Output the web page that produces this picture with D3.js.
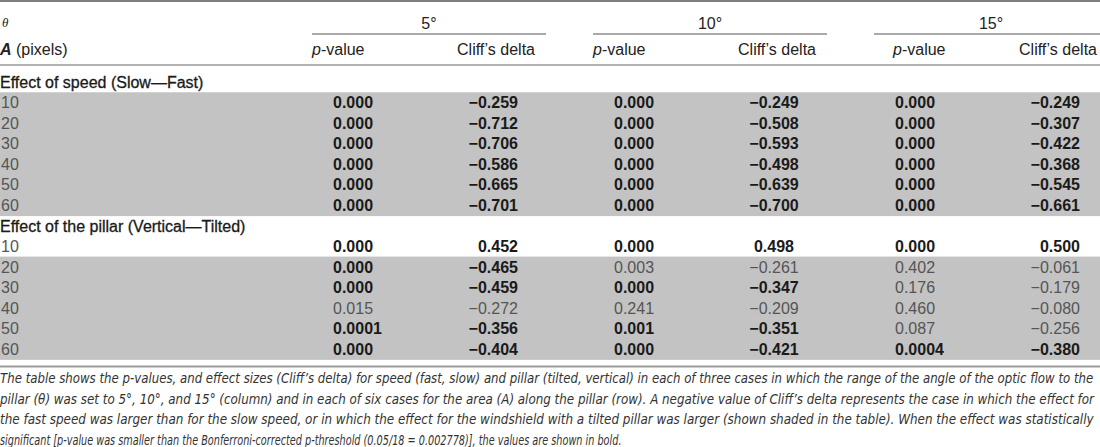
<!DOCTYPE html>
<html>
<head>
<meta charset="utf-8">
<script src="https://cdn.jsdelivr.net/npm/d3@7"></script>
<style>
  body { margin: 0; background: #fff; }
  svg { display: block; font-family: "Liberation Sans", Arial, Helvetica, sans-serif; }
</style>
</head>
<body>
<script>
// table values
const areas = [10, 20, 30, 40, 50, 60];
const angles = ["5°", "10°", "15°"];
const colHeads = ["p-value", "Cliff’s delta"];
const sections = ["Effect of speed (Slow—Fast)", "Effect of the pillar (Vertical—Tilted)"];

// rows = area, columns = angle
const speedP = [
	[0, 0, 0],
	[0, 0, 0],
	[0, 0, 0],
	[0, 0, 0],
	[0, 0, 0],
	[0, 0, 0]
];
const speedDelta = [
	[-0.259, -0.249, -0.249],
	[-0.712, -0.508, -0.307],
	[-0.706, -0.593, -0.422],
	[-0.586, -0.498, -0.368],
	[-0.665, -0.639, -0.545],
	[-0.701, -0.700, -0.661]
];
const pillarP = [
	[0, 0, 0],
	[0, 0.003, 0.402],
	[0, 0, 0.176],
	[0.015, 0.241, 0.460],
	[0.0001, 0.001, 0.087],
	[0, 0, 0.0004]
];
const pillarDelta = [
	[0.452, 0.498, 0.500],
	[-0.465, -0.261, -0.061],
	[-0.459, -0.347, -0.179],
	[-0.272, -0.209, -0.080],
	[-0.356, -0.351, -0.256],
	[-0.404, -0.421, -0.380]
];

// Bonferroni threshold
const threshold = 0.05 / 18;

const captionLines = [
	"The table shows the p-values, and effect sizes (Cliff’s delta) for speed (fast, slow) and pillar (tilted, vertical) in each of three cases in which the range of the angle of the optic flow to the",
	"pillar (θ) was set to 5°, 10°, and 15° (column) and in each of six cases for the area (A) along the pillar (row). A negative value of Cliff’s delta represents the case in which the effect for",
	"the fast speed was larger than for the slow speed, or in which the effect for the windshield with a tilted pillar was larger (shown shaded in the table). When the effect was statistically",
	"significant [p-value was smaller than the Bonferroni-corrected p-threshold (0.05/18 = 0.002778)], the values are shown in bold."
];
// width each caption line is set to (justified, last line ragged)
const captionWidths = [1095, 1095, 1095, 622];

const width = 1100,
	height = 447;

const fontSize = 16;
const shade = "#c3c3c3";

const svg = d3.select("body").append("svg")
	.attr("width", width)
	.attr("height", height);

// build the body rows: section label then six area rows
let body = [];
const pSets = [speedP, pillarP],
	dSets = [speedDelta, pillarDelta];
sections.forEach(function(label, s) {
	body.push({type: "section", label: label});
	areas.forEach(function(a, i) {
		body.push({type: "row", area: a, p: pSets[s][i], d: dSets[s][i]});
	});
});

// row index -> vertical centre
const yScale = d3.scaleLinear()
	.domain([0, body.length - 1])
	.range([82, 349]);
const rowH = yScale(1) - yScale(0);

// column groups (one per angle)
const xGroup = d3.scaleBand()
	.domain(angles)
	.range([312, 1108])
	.paddingInner(47 / 281);

// alignment of the delta column is not the same in every group
const deltaAlign = ["end", "middle", "end"];
const pHeadOffset = [0, 0, 19];

const fmtDelta = d3.format(".3f");
const fmtP = function(p) {
	if (p === 0) return "0.000";
	return p < 0.001 ? p.toFixed(4) : p.toFixed(3);
};

// shaded rows (negative delta)
svg.append("g").selectAll("rect")
	.data(body.map(function(d, i) { return {d: d, i: i}; })
		.filter(function(o) { return o.d.type === "row" && d3.max(o.d.d) < 0; }))
	.enter()
	.append("rect")
	.attr("x", 0)
	.attr("width", width)
	.attr("y", function(o) { return yScale(o.i) - rowH / 2; })
	.attr("height", rowH + 0.6)
	.attr("fill", shade);

// rules
svg.append("line")
	.attr("x1", 0).attr("x2", width)
	.attr("y1", 1).attr("y2", 1)
	.attr("stroke", "#555").attr("stroke-width", 1.5);

svg.append("g").selectAll("line")
	.data(angles)
	.enter()
	.append("line")
	.attr("x1", function(d) { return xGroup(d); })
	.attr("x2", function(d) { return xGroup(d) + xGroup.bandwidth(); })
	.attr("y1", 34).attr("y2", 34)
	.attr("stroke", "#555").attr("stroke-width", 1);

svg.append("line")
	.attr("x1", 0).attr("x2", width)
	.attr("y1", 65).attr("y2", 65)
	.attr("stroke", "#999").attr("stroke-width", 1.6);

svg.append("line")
	.attr("x1", 0).attr("x2", width)
	.attr("y1", 366.5).attr("y2", 366.5)
	.attr("stroke", "#999").attr("stroke-width", 1.8);

// header text
const head = svg.append("g")
	.attr("font-size", fontSize)
	.attr("fill", "#222");

head.append("text")
	.attr("x", 2).attr("y", 27)
	.attr("font-family", "'Liberation Serif', 'DejaVu Serif', serif")
	.attr("font-style", "italic")
	.attr("font-size", 13)
	.text("θ");

let aLabel = head.append("text")
	.attr("x", 0).attr("y", 55);
aLabel.append("tspan")
	.attr("font-weight", "bold")
	.attr("font-style", "italic")
	.text("A");
aLabel.append("tspan").text(" (pixels)");

head.selectAll(".grp")
	.data(angles)
	.enter()
	.append("text")
	.attr("class", "grp")
	.attr("x", function(d) { return xGroup(d) + xGroup.bandwidth() / 2; })
	.attr("y", 29)
	.attr("text-anchor", "middle")
	.text(function(d) { return d; });

angles.forEach(function(a, g) {
	let pHead = head.append("text")
		.attr("x", xGroup(a) + pHeadOffset[g])
		.attr("y", 55);
	pHead.append("tspan").attr("font-style", "italic").text("p");
	pHead.append("tspan").text(colHeads[0].slice(1));

	head.append("text")
		.attr("x", xGroup(a) + xGroup.bandwidth() - 11)
		.attr("y", 55)
		.attr("text-anchor", "end")
		.text(colHeads[1]);
});

// body text
const tbl = svg.append("g")
	.attr("font-size", fontSize);

body.forEach(function(row, i) {
	const yb = yScale(i) + 5.8;
	if (row.type === "section") {
		tbl.append("text")
			.attr("x", 0).attr("y", yb)
			.attr("fill", "#1a1a1a")
			.attr("stroke", "#1a1a1a").attr("stroke-width", 0.3)
			.text(row.label);
		return;
	}
	tbl.append("text")
		.attr("x", 1).attr("y", yb)
		.attr("fill", "#555")
		.text(row.area);

	angles.forEach(function(a, g) {
		const sig = row.p[g] < threshold;
		const x0 = xGroup(a),
			x1 = xGroup(a) + xGroup.bandwidth();

		tbl.append("text")
			.attr("x", x0 + 21).attr("y", yb)
			.attr("font-weight", sig ? "bold" : "normal")
			.attr("fill", sig ? "#1a1a1a" : "#555")
			.text(fmtP(row.p[g]));

		const dx = deltaAlign[g] === "end" ? x1 - 28 : x0 + 181;
		tbl.append("text")
			.attr("x", dx).attr("y", yb)
			.attr("text-anchor", deltaAlign[g])
			.attr("font-weight", sig ? "bold" : "normal")
			.attr("fill", sig ? "#1a1a1a" : "#555")
			.text(fmtDelta(row.d[g]));
	});
});

// caption: italic, squeezed horizontally to look condensed, justified lines
const capY = d3.scaleLinear()
	.domain([0, captionLines.length - 1])
	.range([383, 445]);

let capText = svg.append("g")
	.attr("font-family", "'Liberation Sans Narrow', 'DejaVu Sans Condensed', 'Liberation Sans', sans-serif")
	.attr("font-style", "italic")
	.attr("font-size", 14.5)
	.attr("fill", "#333")
	.selectAll("text")
	.data(captionLines)
	.enter()
	.append("text")
	.attr("x", 0)
	.attr("y", 0)
	.text(function(d) { return d; });

// fit each line to its width with a horizontal scale
capText.attr("transform", function(d, i) {
	const len = this.getComputedTextLength();
	return "translate(0," + capY(i) + ") scale(" + (captionWidths[i] / len) + ",1)";
});
</script>
</body>
</html>
